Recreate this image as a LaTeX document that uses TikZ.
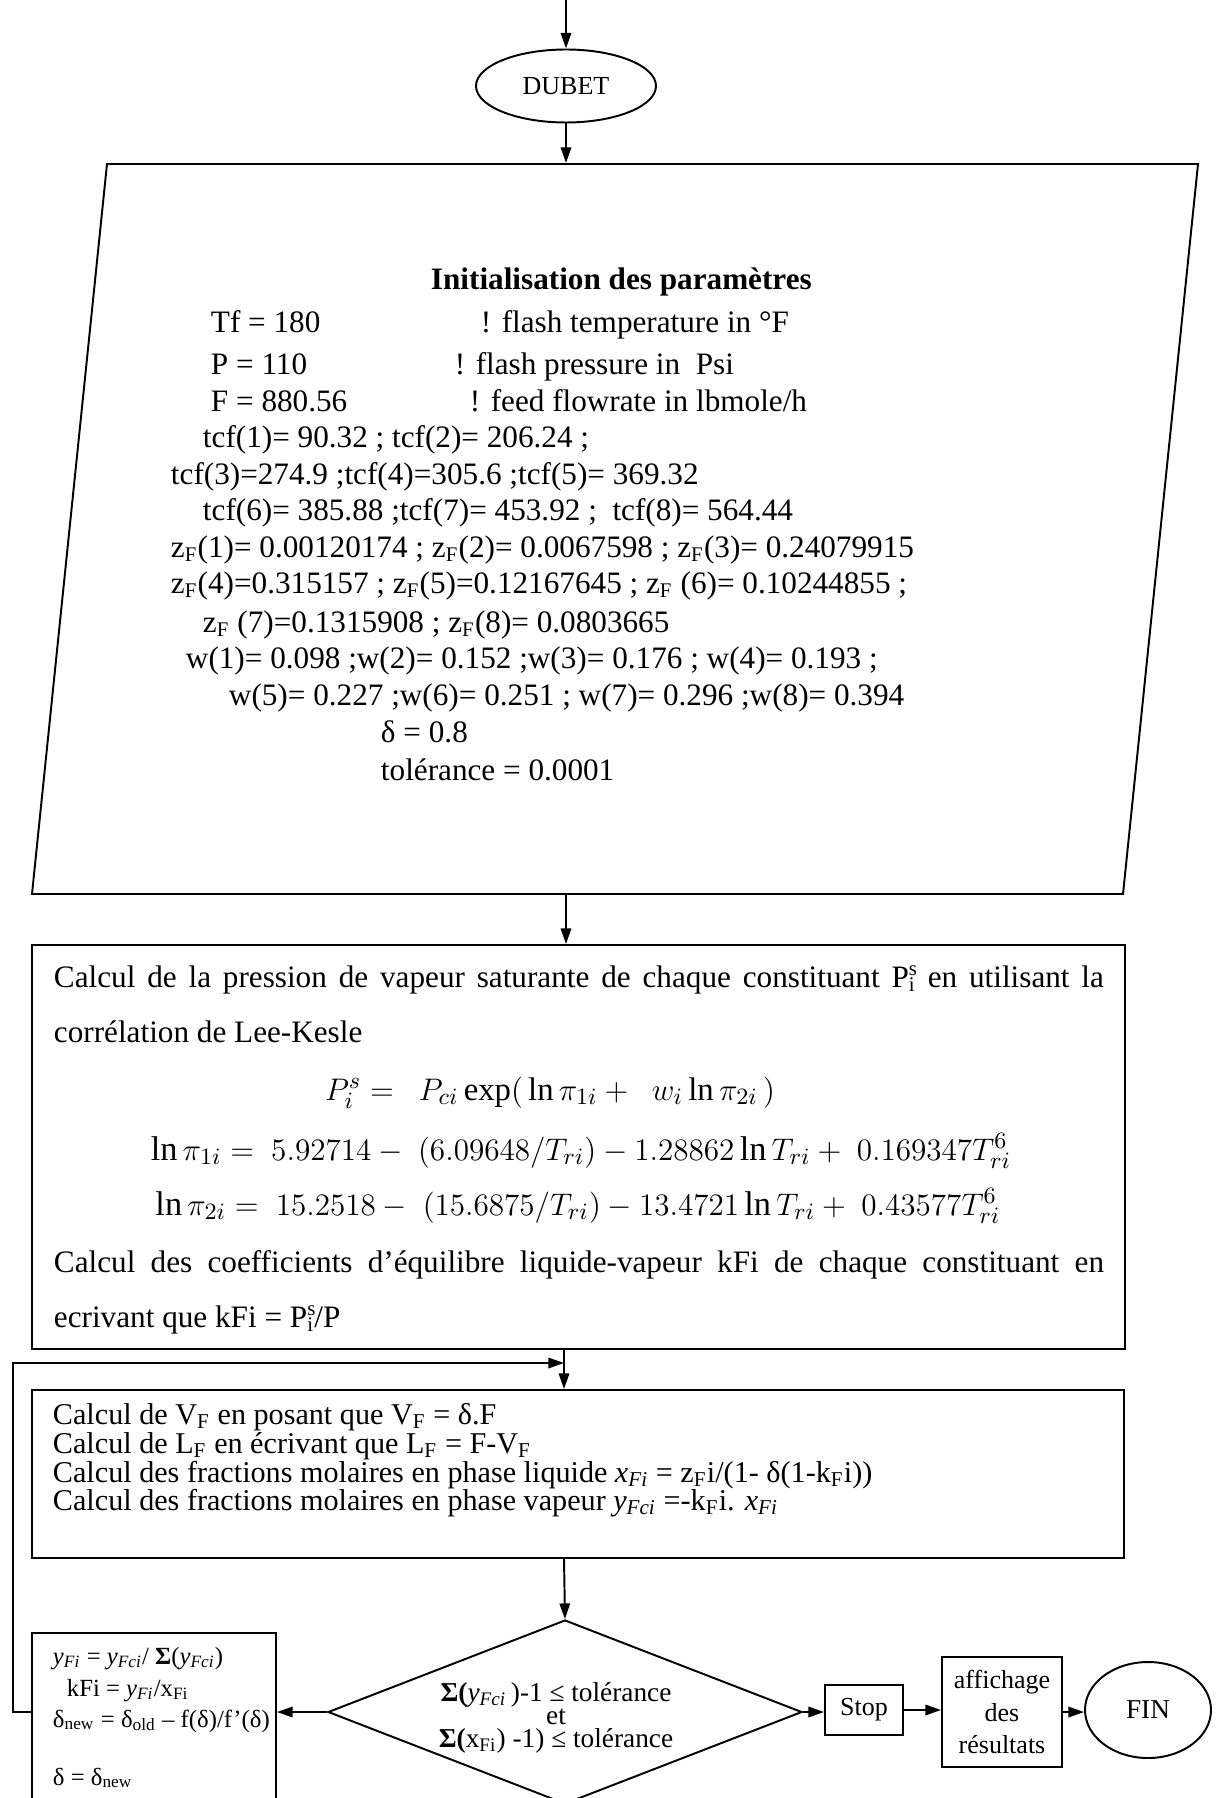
\documentclass[tikz,border=0pt]{standalone}
\usepackage{fontspec}
\setmainfont{Liberation Serif}
\usetikzlibrary{arrows.meta,shapes.geometric}
\newlength\pu
\setlength\pu{0.3846pt}
\newcommand\sub[1]{\textsubscript{#1}}
\newcommand\Psat{P\rlap{\textsuperscript{s}}\textsubscript{i}}
\begin{document}
\begin{tikzpicture}[x=0.3846pt,y=-0.3846pt,
  line width=0.75pt,
  arr/.style={-{Triangle[length=6pt,width=4pt]},line width=0.75pt},
  box/.style={draw,rectangle,inner sep=0pt,line width=0.75pt},
  big/.style={inner sep=0pt,anchor=base west,font=\fontsize{12}{14}\selectfont},
  eqn/.style={inner sep=0pt,anchor=base,font=\fontsize{12.6}{14}\selectfont},
  eqnb/.style={inner sep=0pt,anchor=base,font=\fontsize{13.2}{14}\selectfont},
  mid/.style={inner sep=0pt,anchor=base west,font=\fontsize{11.6}{11}\selectfont},
  small/.style={inner sep=0pt,font=\fontsize{10}{12}\selectfont},
  tiny/.style={inner sep=0pt,anchor=base west,font=\fontsize{9.5}{11}\selectfont},
]
\useasboundingbox (0,0) rectangle (1216,1798);

% helper column
\coordinate (colx) at (566,0);
\coordinate (coly) at (564,0);

% start + DUBET
\coordinate (start) at (566,0);
\node[draw,ellipse,minimum width=180\pu,minimum height=73\pu,inner sep=0pt,font=\fontsize{10}{12}\selectfont] (dubet) at (566,86) {DUBET};

% parallelogram
\coordinate (pTL) at (107,164);
\coordinate (pTR) at (1198,164);
\coordinate (pBR) at (1123,894);
\coordinate (pBL) at (32,894);
\draw (pTL) -- (pTR) -- (pBR) -- (pBL) -- cycle;
\node[inner sep=0pt,minimum width=1091\pu,minimum height=730\pu] (init) at (615,529) {};

\node[big,font=\fontsize{12}{14}\selectfont\bfseries] (t0) at (430,290) {Initialisation des paramètres};
\node[big] (t1a) at (210,333) {Tf = 180};
\node[big] (t1b) at (480,333) {! flash temperature in °F};
\node[big] (t2a) at (210,375) {P = 110};
\node[big] (t2b) at (454,375) {! flash pressure in\ \ Psi};
\node[big] (t3a) at (210,412) {F = 880.56};
\node[big] (t3b) at (469,412) {! feed flowrate in lbmole/h};
\node[big] (t4) at (202,448) {tcf(1)= 90.32 ; tcf(2)= 206.24 ;};
\node[big] (t5) at (170,485) {tcf(3)=274.9 ;tcf(4)=305.6 ;tcf(5)= 369.32};
\node[big] (t6) at (202,520) {tcf(6)= 385.88 ;tcf(7)= 453.92 ;\ \ tcf(8)= 564.44};
\node[big] (t7) at (170,557) {z\sub{F}(1)= 0.00120174 ; z\sub{F}(2)= 0.0067598 ; z\sub{F}(3)= 0.24079915};
\node[big] (t8) at (170,593) {z\sub{F}(4)=0.315157 ; z\sub{F}(5)=0.12167645 ; z\sub{F} (6)= 0.10244855 ;};
\node[big] (t9) at (202,632) {z\sub{F} (7)=0.1315908 ; z\sub{F}(8)= 0.0803665};
\node[big] (t10) at (185,668) {w(1)= 0.098 ;w(2)= 0.152 ;w(3)= 0.176 ; w(4)= 0.193 ;};
\node[big] (t11) at (228,705) {w(5)= 0.227 ;w(6)= 0.251 ; w(7)= 0.296 ;w(8)= 0.394};
\node[big] (t12) at (380,742) {δ = 0.8};
\node[big] (t13) at (380,780) {tolérance = 0.0001};

% box 2
\node[box,minimum width=1093\pu,minimum height=404\pu] (calc) at (578.5,1147) {};
\node[big] (c1) at (53,987) {\makebox[1050\pu][s]{Calcul de la pression de vapeur saturante de chaque constituant \Psat{} en utilisant la}};
\node[big] (c2) at (53,1042) {corrélation de Lee-Kesle};
\node[eqn] (c3) at (550,1100) {$P_i^s =\ \ P_{ci}\exp(\,\ln\pi_{1i} +\ \ w_i\ln\pi_{2i}\,)$};
\node[eqnb] (c4) at (581,1160) {$\ln\pi_{1i} =\ 5.92714 -\ (6.09648/T_{ri}) - 1.28862\ln T_{ri} +\ 0.169347T_{ri}^6$};
\node[eqnb] (c5) at (578,1215) {$\ln\pi_{2i} =\ 15.2518 -\ (15.6875/T_{ri}) - 13.4721\ln T_{ri} +\ 0.43577T_{ri}^6$};
\node[big] (c6) at (53,1272) {\makebox[1050\pu][s]{Calcul des coefficients d’équilibre liquide-vapeur kFi de chaque constituant en}};
\node[big] (c7) at (53,1327) {ecrivant que kFi = \Psat/P};

% box 3
\node[box,minimum width=1092\pu,minimum height=168\pu] (vf) at (578,1474) {};
\node[mid] (v1) at (52,1424) {Calcul de V\sub{F} en posant que V\sub{F} = δ.F};
\node[mid] (v2) at (52,1453) {Calcul de L\sub{F} en écrivant que L\sub{F} = F-V\sub{F}};
\node[mid] (v3) at (52,1482) {Calcul des fractions molaires en phase liquide \textit{x\sub{Fi}} = z\sub{F}i/(1- δ(1-k\sub{F}i))};
\node[mid] (v4) at (52,1510) {Calcul des fractions molaires en phase vapeur \textit{y\sub{Fci}} =-k\sub{F}i. \textit{x\sub{Fi}}};

% decision
\node[draw,diamond,minimum width=474\pu,minimum height=184\pu,inner sep=0pt] (diam) at (565,1712) {};
\node[small,align=center,font=\fontsize{10.5}{8.8}\selectfont] (cond) at (556,1718) {\textbf{Σ(}\textit{y\sub{Fci}}\,)-1 ≤ tolérance\\ et\\ \textbf{Σ(}x\sub{Fi}) -1) ≤ tolérance};

% update box
\node[box,minimum width=244\pu,minimum height=178\pu] (upd) at (154,1722) {};
\node[tiny] (u1) at (52,1664) {\textit{y\sub{Fi}} = \textit{y\sub{Fci}}/ \textbf{Σ}(\textit{y\sub{Fci}})};
\node[tiny] (u2) at (66,1696) {kFi = \textit{y\sub{Fi}}/x\sub{Fi}};
\node[tiny] (u3) at (52,1727) {δ\sub{new} = δ\sub{old} – f(δ)/f’(δ)};
\node[tiny] (u4) at (52,1785) {δ = δ\sub{new}};

% stop, display, end
\node[box,minimum width=78\pu,minimum height=50\pu,font=\fontsize{10}{12}\selectfont] (stop) at (864,1710) {Stop};
\node[box,minimum width=120\pu,minimum height=110\pu,align=center,font=\fontsize{10}{12.5}\selectfont] (aff) at (1002,1712) {affichage\\des\\résultats};
\node[draw,ellipse,minimum width=126\pu,minimum height=96\pu,inner sep=0pt,font=\fontsize{10.5}{12}\selectfont] (fin) at (1148,1710) {FIN};

% loop corners
\coordinate (lc1) at (13,1712);
\coordinate (lc2) at (13,1363);

% connectors
\draw[arr] (start) -- (dubet.north);
\draw[arr] (dubet.south) -- (dubet.south |- init.north);
\draw[arr] (colx |- init.south) -- (colx |- calc.north);
\draw[arr] (coly |- calc.south) -- (coly |- vf.north);
\draw[arr] (coly |- vf.south) -- (diam.north);
\draw[arr] (diam.west) -- (diam.west -| upd.east);
\draw[arr] (upd.west |- diam.west) -- (lc1) -- (lc2) -- (coly |- lc2);
\draw[arr] (diam.east) -- (diam.east -| stop.west);
\draw[arr] (stop.east) -- (stop.east -| aff.west);
\draw[arr] (aff.east) -- (aff.east -| fin.west);
\end{tikzpicture}
\end{document}
